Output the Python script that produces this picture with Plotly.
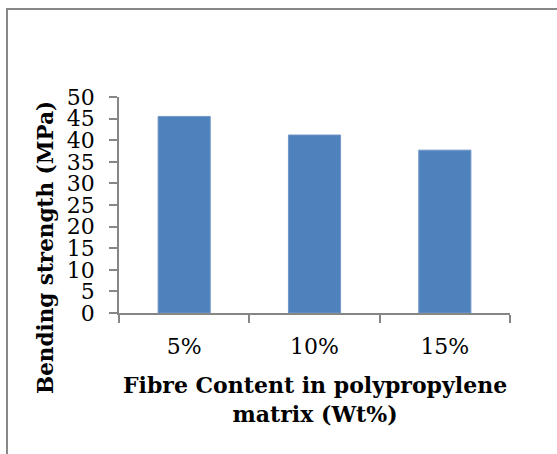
import plotly.graph_objects as go

# Bending strength of fibre-reinforced polypropylene at three fibre loadings
fibre_content = ["5%", "10%", "15%"]
bending_strength = [45.5, 41.2, 37.7]
y_ticks = [0, 5, 10, 15, 20, 25, 30, 35, 40, 45, 50]

W, H = 557, 454
M_L, M_R, M_T, M_B = 119, 47, 97, 141
plot_w = W - M_L - M_R
plot_h = H - M_T - M_B

AXIS_GREY = "#868686"
TICK_FONT = dict(family="DejaVu Serif", size=22, color="#000000")
X_TITLE_FONT = dict(family="DejaVu Serif", size=22, color="#000000")
Y_TITLE_FONT = dict(family="DejaVu Serif", size=21.5, color="#000000")

fig = go.Figure(
    go.Bar(
        x=fibre_content,
        y=bending_strength,
        marker=dict(color="#4F81BD", line=dict(color="#7096C8", width=1)),
        width=0.4,
    )
)

fig.update_layout(
    width=W,
    height=H,
    margin=dict(l=M_L, r=M_R, t=M_T, b=M_B),
    paper_bgcolor="#FFFFFF",
    plot_bgcolor="#FFFFFF",
    showlegend=False,
    xaxis=dict(
        showline=True,
        linecolor=AXIS_GREY,
        linewidth=1.5,
        ticks="outside",
        tickson="boundaries",
        ticklen=8,
        tickcolor=AXIS_GREY,
        tickwidth=1.5,
        tickfont=TICK_FONT,
        ticklabelstandoff=13,
        showgrid=False,
        zeroline=False,
    ),
    yaxis=dict(
        range=[0, 50],
        tickvals=y_ticks,
        showline=True,
        linecolor=AXIS_GREY,
        linewidth=1.5,
        ticks="outside",
        ticklen=8,
        tickcolor=AXIS_GREY,
        tickwidth=1.5,
        tickfont=TICK_FONT,
        ticklabelstandoff=10,
        showgrid=False,
        zeroline=False,
    ),
    annotations=[
        dict(
            text="<b>Bending strength (MPa)</b>",
            xref="paper", yref="paper",
            x=(45 - M_L) / plot_w, y=(H - M_B - 248) / plot_h,
            xanchor="center", yanchor="middle",
            textangle=-90, showarrow=False, font=Y_TITLE_FONT,
        ),
        dict(
            text="<b>Fibre Content in polypropylene<br>matrix (Wt%)</b>",
            xref="paper", yref="paper",
            x=0.5, y=-(399 - (H - M_B)) / plot_h,
            xanchor="center", yanchor="middle",
            showarrow=False, font=X_TITLE_FONT,
        ),
    ],
    shapes=[
        # outer frame around the chart area
        dict(
            type="rect", xref="paper", yref="paper",
            x0=(7 - M_L) / plot_w, x1=(W + 10 - M_L) / plot_w,
            y0=-(H + 10 - (H - M_B)) / plot_h, y1=((H - M_B) - 9) / plot_h,
            line=dict(color="#878787", width=2),
        )
    ],
)

fig.write_html("out.html")
